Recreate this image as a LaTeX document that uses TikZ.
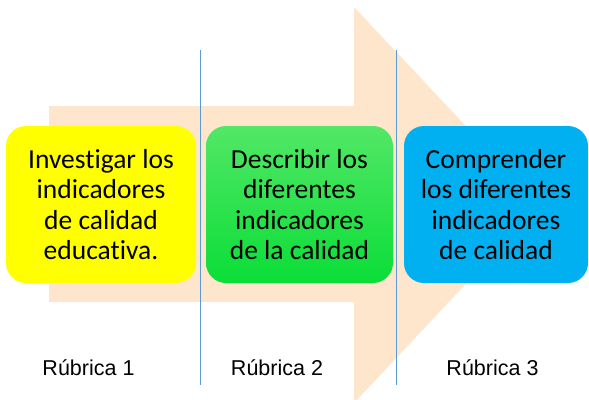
\documentclass[tikz,border=0pt]{standalone}
\usepackage{fontspec}
\setmainfont{Carlito}[Ligatures=NoCommon]
\newfontfamily\labfont{Liberation Sans}
\definecolor{peach}{HTML}{FDE6CC}
\definecolor{boxyellow}{HTML}{FFFF00}
\definecolor{greentop}{HTML}{52E766}
\definecolor{greenbot}{HTML}{0ADE37}
\definecolor{boxblue}{HTML}{00B0F0}
\definecolor{divblue}{HTML}{5B9BD5}
\tikzset{
  stagebox/.style={rounded corners=20pt,align=center,inner sep=0pt,
    minimum height=157pt,font=\fontsize{27.5}{30.5}\selectfont},
  rublabel/.style={font=\labfont\fontsize{21.5}{25}\selectfont},
  divline/.style={divblue,line width=0.8pt}
}

\begin{document}
\begin{tikzpicture}[x=1pt,y=-1pt]
\useasboundingbox (0,0) rectangle (589,399);
\clip (0,0) rectangle (589,399);
\fill[peach] (49,106) -- (354,106) -- (354,7) -- (540,205) -- (354,403) -- (354,302) -- (49,302) -- cycle;

\draw[divline] (200,50) -- (200,385);
\draw[divline] (396,50) -- (396,385);

\node[stagebox,fill=boxyellow,minimum width=190pt] (inv) at (101,204.5) {Investigar los\\indicadores\\de calidad\\educativa.};
\node[stagebox,top color=greentop,bottom color=greenbot,minimum width=187pt] (des) at (299.5,204.5) {Describir los\\diferentes\\indicadores\\de la calidad};
\node[stagebox,fill=boxblue,minimum width=184pt] (com) at (496,204.5) {Comprender\\los diferentes\\indicadores\\de calidad};

\node[rublabel] (rub1) at (88.5,368) {Rúbrica 1};
\node[rublabel] (rub2) at (277,368) {Rúbrica 2};
\node[rublabel] (rub3) at (492.5,368) {Rúbrica 3};
\end{tikzpicture}
\end{document}
